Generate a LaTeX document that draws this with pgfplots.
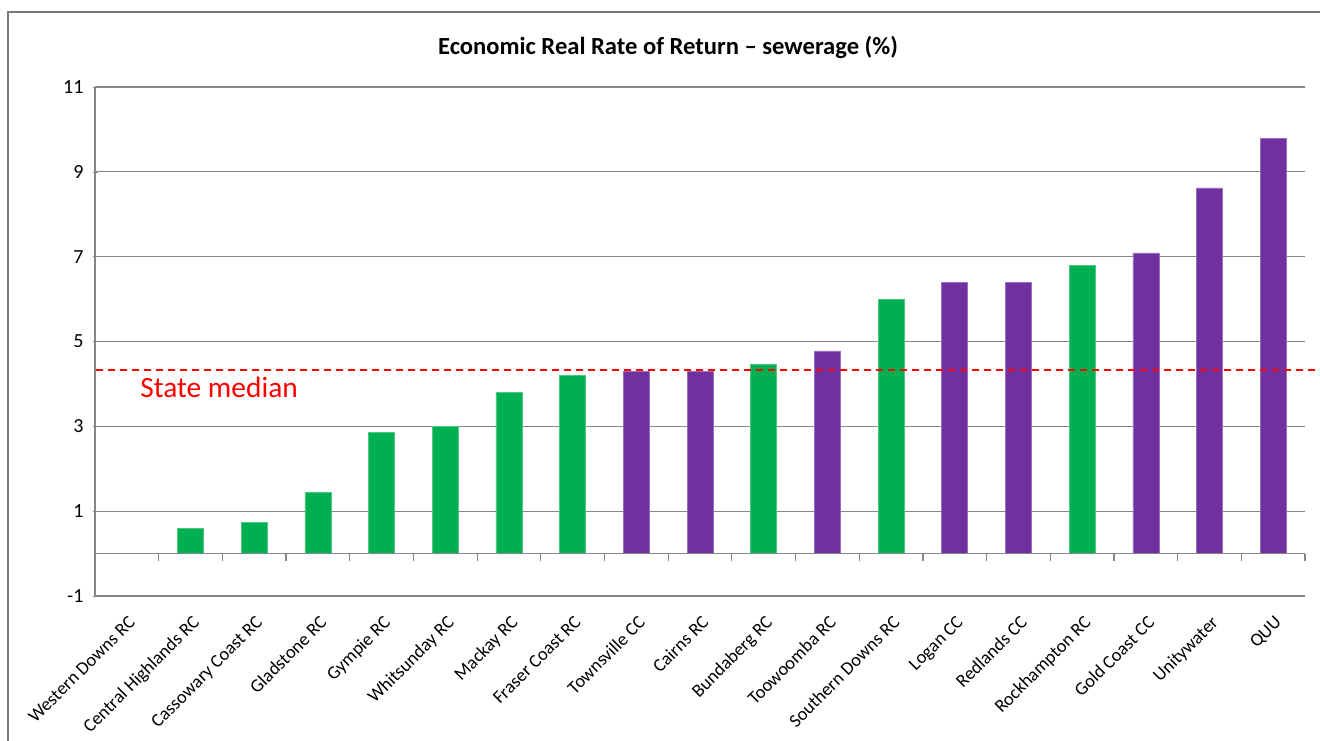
\documentclass[border=0pt]{standalone}
\usepackage{pgfplots}
\pgfplotsset{compat=1.18}
\usepackage{fontspec}
\setmainfont{Carlito}
\definecolor{xgreen}{HTML}{00B050}
\definecolor{xpurple}{HTML}{7030A0}
\definecolor{xgrid}{HTML}{868686}
\begin{document}
\begin{tikzpicture}[x=1pt,y=1pt]
\useasboundingbox (0,0) rectangle (660,370);
\clip (0,0) rectangle (660,370);
\draw[color=xgrid!90!black, line width=1pt] (4,-5) -- (4,364) -- (670,364);
\node[font=\bfseries\fontsize{12.3}{14}\selectfont] at (334,346.5) {Economic Real Rate of Return -- sewerage (\%)};
\begin{axis}[
  at={(47.5pt,72pt)}, anchor=south west,
  scale only axis, width=605pt, height=254.5pt,
  xmin=-0.5, xmax=18.5, ymin=-1, ymax=11,
  ytick={-1,1,3,5,7,9,11},
  xtick={0,...,18},
  xticklabels={Western Downs RC, Central Highlands RC, Cassowary Coast RC, Gladstone RC, Gympie RC, Whitsunday RC, Mackay RC, Fraser Coast RC, Townsville CC, Cairns RC, Bundaberg RC, Toowoomba RC, Southern Downs RC, Logan CC, Redlands CC, Rockhampton RC, Gold Coast CC, Unitywater, QUU},
  x tick label style={rotate=45, anchor=north east, font=\fontsize{9.2}{10}\selectfont, xshift=-2pt, yshift=-2.5pt},
  y tick label style={font=\fontsize{10}{11}\selectfont, xshift=-1pt},
  /pgf/number format/assume math mode=true,
  major x tick style={draw=none},
  major y tick style={color=xgrid},
  tick align=outside, major tick length=2.5pt,
  ymajorgrids, grid style={color=xgrid, line width=0.6pt},
  axis x line=bottom, axis y line=left,
  x axis line style={draw=none},
  y axis line style={color=xgrid, line width=0.6pt, -},
  clip=false,
]
\addplot[ybar, bar width=13pt, bar shift=0pt, fill=xgreen, draw=xgreen!70!white, line width=0.3pt]
  coordinates {(1,0.59) (2,0.74) (3,1.45) (4,2.86) (5,3.0) (6,3.8) (7,4.2) (10,4.46) (12,5.99) (15,6.8)};
\addplot[ybar, bar width=13pt, bar shift=0pt, fill=xpurple, draw=xpurple!70!white, line width=0.3pt]
  coordinates {(8,4.3) (9,4.3) (11,4.78) (13,6.39) (14,6.39) (16,7.09) (17,8.62) (18,9.79)};
\draw[color=xgrid, line width=0.6pt] (axis cs:-0.5,0) -- (axis cs:18.5,0);
\pgfplotsinvokeforeach{0,...,18}{\draw[color=xgrid, line width=0.6pt] (axis cs:#1+0.5,0) -- ++(0pt,-3.5pt);}
\addplot[red, line width=1pt, dash pattern=on 3.5pt off 2.5pt] coordinates {(-0.48,4.33) (18.75,4.33)};
\node[anchor=base west, inner sep=0pt, text=red, font=\fontsize{14.7}{16}\selectfont] at (axis cs:-0.5,3.68) [xshift=22.5pt] {State median};
\end{axis}
\end{tikzpicture}
\end{document}
